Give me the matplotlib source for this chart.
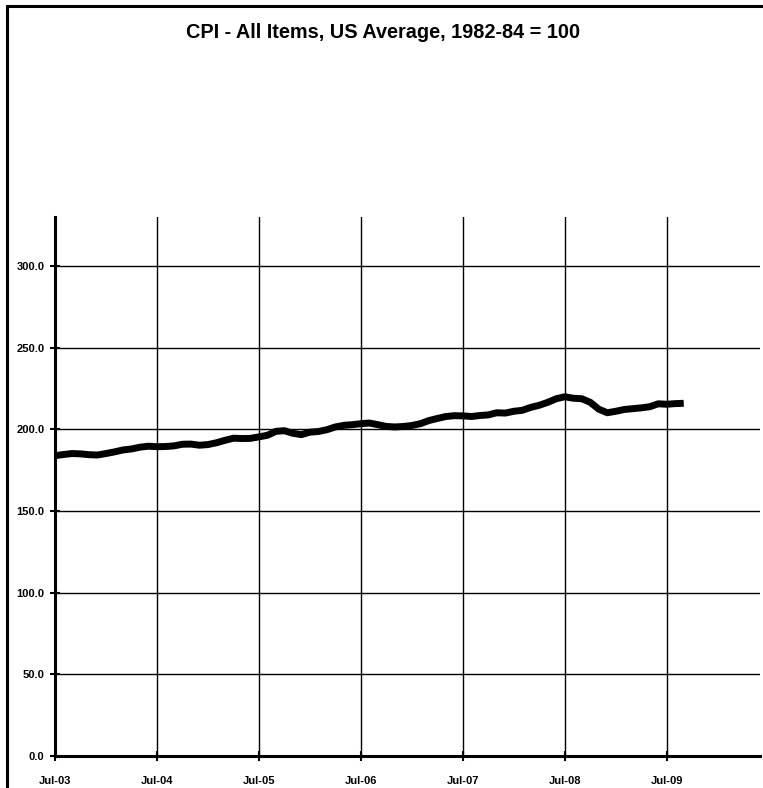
import matplotlib
matplotlib.use("Agg")
import matplotlib.pyplot as plt
from matplotlib.patches import Rectangle
import numpy as np

# CPI-U, all items, monthly from Jul-03 to Sep-09
cpi = [183.9, 184.6, 185.2, 185.0, 184.5, 184.3,
       185.2, 186.2, 187.4, 188.0, 189.1, 189.7,
       189.4, 189.5, 189.9, 190.9, 191.0, 190.3,
       190.7, 191.8, 193.3, 194.6, 194.4, 194.5,
       195.4, 196.4, 198.8, 199.2, 197.6, 196.8,
       198.3, 198.7, 199.8, 201.5, 202.5, 202.9,
       203.5, 203.9, 202.9, 201.8, 201.5, 201.8,
       202.4, 203.5, 205.4, 206.7, 207.9, 208.4,
       208.3, 207.9, 208.5, 208.9, 210.2, 210.0,
       211.1, 211.7, 213.5, 214.8, 216.6, 218.8,
       220.0, 219.1, 218.8, 216.6, 212.4, 210.2,
       211.1, 212.2, 212.7, 213.2, 213.9, 215.7,
       215.4, 215.8, 216.0]
tick_labels = ["Jul-03", "Jul-04", "Jul-05", "Jul-06", "Jul-07", "Jul-08", "Jul-09"]
y_ticks = [0, 50, 100, 150, 200, 250, 300]

months = np.arange(len(cpi))

W, H = 763, 788
fig = plt.figure(figsize=(W / 100, H / 100), dpi=100)
plt.rcParams["font.family"] = ["Liberation Sans", "DejaVu Sans"]

# outer chart frame (runs off the right and bottom edges)
fig.patches.append(Rectangle((7 / W, -0.1), 1.2, 1 - 6 / H + 0.1,
                             transform=fig.transFigure, fill=False,
                             edgecolor="black", linewidth=2.2))

ax = fig.add_axes([55 / W, (H - 755.7) / H, (760.2 - 55) / W, (755.7 - 217.3) / H])
ax.plot(months, cpi, color="black", linewidth=5.0, solid_joinstyle="round",
        solid_capstyle="butt", zorder=3)

ax.set_xlim(0, 83)
ax.set_ylim(0, 330)
ax.set_xticks(np.arange(len(tick_labels)) * 12)
ax.set_xticklabels(tick_labels)
ax.set_yticks(y_ticks)
ax.set_yticklabels(["%.1f" % v for v in y_ticks])
ax.grid(True, color="black", linewidth=1.0)
ax.set_axisbelow(True)

for s in ["top", "right"]:
    ax.spines[s].set_visible(False)
for s in ["left", "bottom"]:
    ax.spines[s].set_linewidth(2.2)
    ax.spines[s].set_zorder(4)

ax.tick_params(axis="both", direction="inout", length=7, width=1.5,
               labelsize=8, colors="black")
ax.tick_params(axis="x", pad=11)
ax.tick_params(axis="y", pad=4)
for lbl in ax.get_xticklabels() + ax.get_yticklabels():
    lbl.set_fontweight("bold")

fig.text(383 / W, 1 - 32 / H, "CPI - All Items, US Average, 1982-84 = 100",
         ha="center", va="center", fontsize=14.3, fontweight="bold")

fig.savefig("out.png", dpi=100)
